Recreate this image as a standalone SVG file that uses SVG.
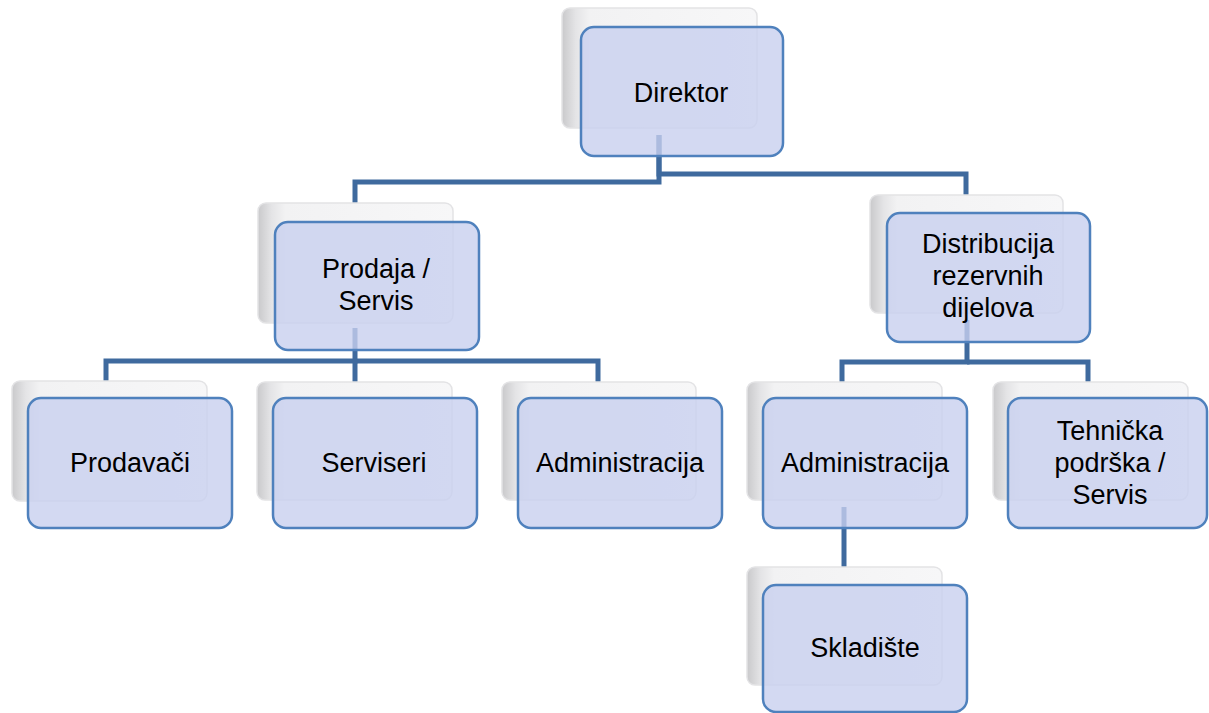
<svg xmlns="http://www.w3.org/2000/svg" width="1209" height="713" viewBox="0 0 1209 713">
<defs>
<linearGradient id="shg" x1="0" y1="0" x2="1" y2="0">
<stop offset="0" stop-color="#c9c9cb"/>
<stop offset="0.07" stop-color="#e4e4e6"/>
<stop offset="0.14" stop-color="#f2f2f3"/>
<stop offset="1" stop-color="#f7f7f8"/>
</linearGradient>
<style>
.sh{fill:url(#shg);stroke:#e3e3e5;stroke-width:1.5}
.fr{fill:#c8d0ef;fill-opacity:0.8;stroke:#4f81bd;stroke-width:2.5}
.cn{fill:none;stroke:#3f6a9e;stroke-width:5;stroke-linejoin:miter}
text{font-family:"Liberation Sans",Arial,sans-serif;font-size:27px;fill:#000;text-anchor:middle}
</style>
</defs>
<rect width="1209" height="713" fill="#fff"/>
<g id="connectors">
<path class="cn" d="M659,135 V182 H355 V203"/>
<path class="cn" d="M659,135 V174 H966 V196"/>
<path class="cn" d="M355,328 V361 H106 V382"/>
<path class="cn" d="M355,361 V382"/>
<path class="cn" d="M355,361 H598 V382"/>
<path class="cn" d="M967,320 V362 H842 V382"/>
<path class="cn" d="M967,362 H1088 V382"/>
<path class="cn" d="M844,507 V568"/>
</g>
<g id="node-direktor">
<rect class="sh" x="562" y="8" width="195" height="120" rx="8"/>
<rect class="fr" x="581" y="27" width="202" height="129" rx="13"/>
<text x="681" y="102">Direktor</text>
</g>
<g id="node-prodaja">
<rect class="sh" x="258" y="203" width="195" height="120" rx="8"/>
<rect class="fr" x="275" y="222" width="204" height="128" rx="13"/>
<text x="376" y="278">Prodaja /</text>
<text x="376" y="310">Servis</text>
</g>
<g id="node-distribucija">
<rect class="sh" x="870" y="195" width="193" height="118" rx="8"/>
<rect class="fr" x="887" y="213" width="203" height="129" rx="13"/>
<text x="988" y="253">Distribucija</text>
<text x="988" y="285">rezervnih</text>
<text x="988" y="317">dijelova</text>
</g>
<g id="node-prodavaci">
<rect class="sh" x="12" y="381" width="195" height="120" rx="8"/>
<rect class="fr" x="28" y="398" width="204" height="130" rx="13"/>
<text x="130" y="472">Prodavači</text>
</g>
<g id="node-serviseri">
<rect class="sh" x="257" y="382" width="195" height="118" rx="8"/>
<rect class="fr" x="273" y="398" width="204" height="130" rx="13"/>
<text x="374" y="472">Serviseri</text>
</g>
<g id="node-administracija-1">
<rect class="sh" x="502" y="382" width="194" height="118" rx="8"/>
<rect class="fr" x="518" y="398" width="204" height="130" rx="13"/>
<text x="620" y="472">Administracija</text>
</g>
<g id="node-administracija-2">
<rect class="sh" x="747" y="382" width="195" height="118" rx="8"/>
<rect class="fr" x="763" y="398" width="204" height="130" rx="13"/>
<text x="865" y="472">Administracija</text>
</g>
<g id="node-tehnicka">
<rect class="sh" x="993" y="382" width="195" height="118" rx="8"/>
<rect class="fr" x="1008" y="398" width="199" height="130" rx="13"/>
<text x="1110" y="440">Tehnička</text>
<text x="1110" y="472">podrška /</text>
<text x="1110" y="504">Servis</text>
</g>
<g id="node-skladiste">
<rect class="sh" x="747" y="567" width="195" height="118" rx="8"/>
<rect class="fr" x="763" y="585" width="204" height="127" rx="13"/>
<text x="865" y="657">Skladište</text>
</g>
</svg>
